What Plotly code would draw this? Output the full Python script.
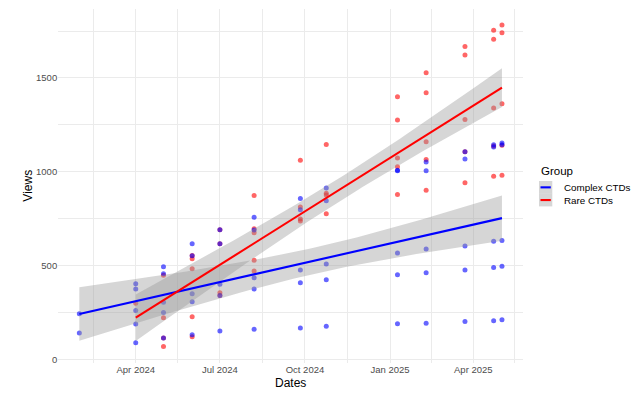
import numpy as np
import pandas as pd
import plotly.graph_objects as go

# ---------------- data ----------------
dates = ["2024-01-31", "2024-04-01", "2024-05-01", "2024-06-01", "2024-07-01",
         "2024-08-07", "2024-09-26", "2024-10-24", "2025-01-09", "2025-02-09",
         "2025-03-23", "2025-04-23", "2025-05-02"]

complex_views = [
    [243, 140],
    [403, 375, 261, 188, 89],
    [494, 456, 304, 250, 114],
    [616, 552, 350, 307, 131],
    [691, 616, 400, 341, 151],
    [757, 690, 435, 375, 161],
    [858, 797, 476, 408, 167],
    [913, 845, 508, 424, 176],
    [1008, 1005, 567, 451, 190],
    [1052, 1005, 588, 462, 193],
    [1107, 1068, 604, 476, 202],
    [1144, 1132, 629, 490, 206],
    [1153, 1144, 634, 496, 211],
]

rare_views = [
    [],
    [299],
    [448, 222, 114, 69],
    [554, 536, 483, 227, 120],
    [691, 616, 355, 341],
    [874, 696, 675, 529, 471],
    [1061, 812, 748, 737],
    [1146, 885, 876, 776],
    [1400, 1276, 1073, 1027, 879],
    [1528, 1421, 1160, 1066, 901],
    [1668, 1622, 1279, 1107, 941],
    [1755, 1707, 1340, 1138, 976],
    [1782, 1741, 1362, 1141, 981],
]

groups = ["Complex CTDs", "Rare CTDs"]
group_colors = ["#0000FF", "#FF0000"]
point_colors = ["rgba(0,0,255,0.6)", "rgba(255,0,0,0.6)"]
legend_title = "Group"

x_tick_vals = ["2024-04-01", "2024-07-01", "2024-10-01", "2025-01-01", "2025-04-01"]
x_tick_text = ["Apr 2024", "Jul 2024", "Oct 2024", "Jan 2025", "Apr 2025"]
x_minor_vals = ["2024-02-15", "2024-05-16", "2024-08-16", "2024-11-16", "2025-02-15", "2025-05-16"]
y_tick_vals = [0, 500, 1000, 1500]
y_minor_vals = [250, 750, 1250, 1750]


def flatten(values):
    xs, ys = [], []
    for d, vals in zip(dates, values):
        for v in vals:
            xs.append(d)
            ys.append(v)
    return pd.to_datetime(xs), np.array(ys, dtype=float)


def t975(df):
    z = 1.959964
    return (z + (z**3 + z) / (4 * df) + (5 * z**5 + 16 * z**3 + 3 * z) / (96 * df**2)
            + (3 * z**7 + 19 * z**5 + 17 * z**3 - 15 * z) / (384 * df**3))


epoch = pd.Timestamp("2024-01-01")
fig = go.Figure()
all_x, all_y = [], []
fits = [None, None]
point_traces = [None, None]
for g, vals in enumerate([complex_views, rare_views]):
    xd, y = flatten(vals)
    x = (xd - epoch).days.values.astype(float)
    all_x.extend(list(xd))
    all_y.extend(list(y))
    point_traces[g] = go.Scatter(x=xd, y=y, mode="markers", showlegend=False,
                                 marker=dict(size=5, color=point_colors[g], line=dict(width=0)),
                                 hoverinfo="skip")
    n = len(x)
    b, a = np.polyfit(x, y, 1)
    resid = y - (a + b * x)
    s = np.sqrt(np.sum(resid**2) / (n - 2))
    xg = np.linspace(x.min(), x.max(), 80)
    yg = a + b * xg
    se = s * np.sqrt(1.0 / n + (xg - x.mean())**2 / np.sum((x - x.mean())**2))
    tq = t975(n - 2)
    fits[g] = (xg, yg, yg - tq * se, yg + tq * se)

# rare points underneath, complex points on top (as in the reference)
fig.add_trace(point_traces[1])
fig.add_trace(point_traces[0])

for g, (xg, yg, lo, hi) in enumerate(fits):
    xdg = epoch + pd.to_timedelta(xg, unit="D")
    fig.add_trace(go.Scatter(x=list(xdg) + list(xdg[::-1]), y=list(hi) + list(lo[::-1]),
                             fill="toself", fillcolor="rgba(153,153,153,0.4)",
                             line=dict(width=0), mode="lines", showlegend=False,
                             hoverinfo="skip"))
for g, (xg, yg, lo, hi) in enumerate(fits):
    xdg = epoch + pd.to_timedelta(xg, unit="D")
    fig.add_trace(go.Scatter(x=xdg, y=yg, mode="lines", name=groups[g], showlegend=False,
                             line=dict(color=group_colors[g], width=2.1)))

xmin, xmax = min(all_x), max(all_x)
xr = xmax - xmin
ymin, ymax = min(all_y), max(all_y)
yr = ymax - ymin

# ---------------- legend (ggplot-style keys) ----------------
W, H = 632, 389
font = "Liberation Sans, Arial, sans-serif"
annotations = [dict(text=legend_title, xref="paper", yref="paper",
                    x=531.0 / W, y=1 - 162.5 / H, xanchor="left", yanchor="middle",
                    showarrow=False, font=dict(size=11.5, color="#000000", family=font))]
shapes = []
key_x0, key_x1 = 531.0, 544.3
key_top, key_h = 173.0, 12.7
for i, (name, col) in enumerate(zip(groups, group_colors)):
    top = key_top + i * key_h
    shapes.append(dict(type="rect", xref="paper", yref="paper",
                       x0=key_x0 / W, x1=key_x1 / W,
                       y0=1 - (top + key_h) / H, y1=1 - top / H,
                       fillcolor="rgba(153,153,153,0.4)", line=dict(width=0), layer="above"))
    cy = top + key_h / 2
    shapes.append(dict(type="line", xref="paper", yref="paper",
                       x0=(key_x0 + 1.5) / W, x1=(key_x1 - 1.5) / W,
                       y0=1 - cy / H, y1=1 - cy / H,
                       line=dict(color=col, width=2.1), layer="above"))
    annotations.append(dict(text=name, xref="paper", yref="paper",
                            x=554.0 / W, y=1 - cy / H, xanchor="left", yanchor="middle",
                            showarrow=False, font=dict(size=9.8, color="#000000", family=font)))

grid = "#EBEBEB"
fig.update_layout(
    width=W, height=H,
    margin=dict(l=0, r=0, t=0, b=0),
    paper_bgcolor="white", plot_bgcolor="white",
    font=dict(family=font, color="#000000"),
    xaxis=dict(domain=[50.2 / W, 515.1 / W], range=[xmin - 0.05 * xr, xmax + 0.05 * xr],
               tickvals=pd.to_datetime(x_tick_vals), ticktext=x_tick_text,
               showgrid=True, gridcolor=grid, gridwidth=1.1, zeroline=False,
               showline=False, ticks="", tickfont=dict(size=9.5, color="#4D4D4D"),
               minor=dict(tickvals=pd.to_datetime(x_minor_vals), showgrid=True,
                          gridcolor=grid, gridwidth=0.55),
               title=dict(text="Dates", font=dict(size=12, color="#000000"), standoff=4),
               automargin=False),
    yaxis=dict(domain=[1 - 354.5 / H, 1 - 1.0 / H], range=[ymin - 0.05 * yr, ymax + 0.05 * yr],
               tickvals=y_tick_vals, ticktext=[str(v) for v in y_tick_vals],
               showgrid=True, gridcolor=grid, gridwidth=1.1, zeroline=False,
               showline=False, ticks="", tickfont=dict(size=9.5, color="#4D4D4D"),
               minor=dict(tickvals=y_minor_vals, showgrid=True, gridcolor=grid, gridwidth=0.55),
               title=dict(text="Views", font=dict(size=12, color="#000000"), standoff=0),
               automargin=False),
    annotations=annotations,
    shapes=shapes,
    showlegend=False,
)

fig.write_html("out.html")
